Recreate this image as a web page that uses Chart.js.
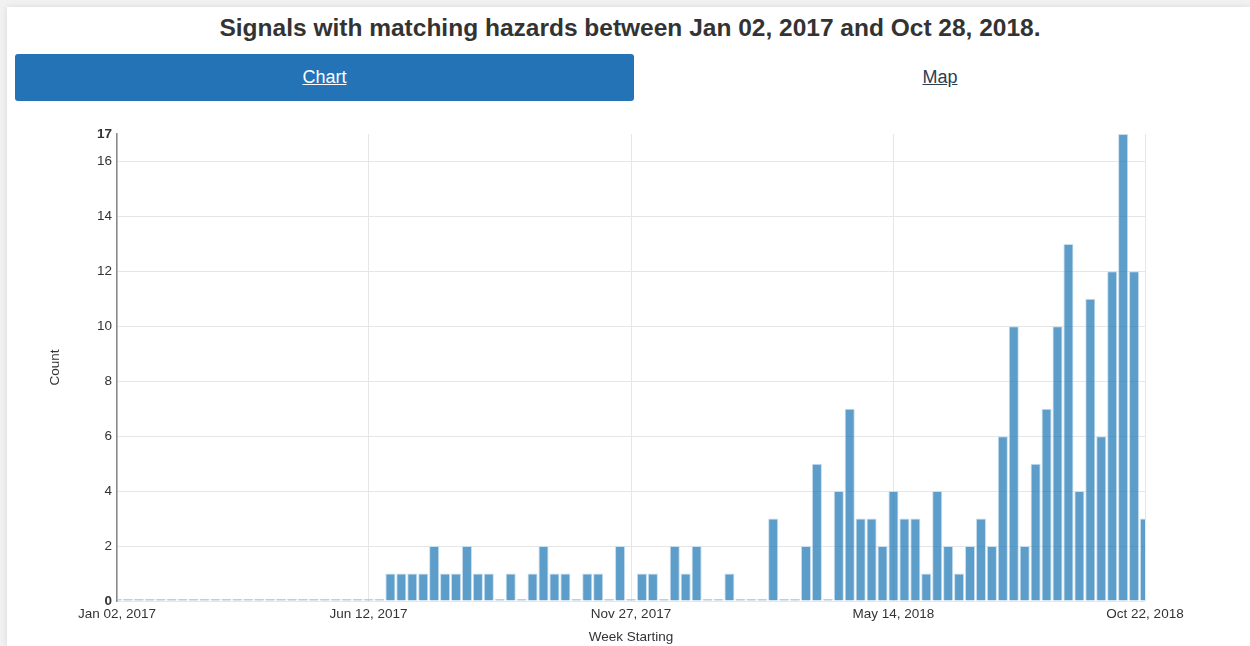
<!DOCTYPE html>
<html>
<head>
<meta charset="utf-8">
<script src="https://cdn.jsdelivr.net/npm/chart.js@4.4.0/dist/chart.umd.min.js"></script>
<style>
    html, body { margin: 0; padding: 0; }
    body {
        width: 1250px; height: 646px; overflow: hidden; position: relative;
        background: #f1f1f1; font-family: "Liberation Sans", Arial, sans-serif;
    }
    #panel {
        position: absolute; left: 7px; top: 7px; right: 0; bottom: 0;
        background: #fff; box-shadow: 0 0 6px rgba(0, 0, 0, 0.10);
    }
    h1 {
        position: absolute; left: 5px; top: 13px; width: 1250px; margin: 0;
        text-align: center; font-size: 24.5px; line-height: 30px; font-weight: bold; color: #333;
    }
    .tab {
        position: absolute; top: 54px; height: 47px; line-height: 47px;
        text-align: center; font-size: 18px; text-decoration: underline;
    }
    #tabChart { left: 15px; width: 619px; background: #2573b7; color: #fff; border-radius: 3px; }
    #tabMap { left: 634px; width: 612px; color: #2c3e50; }
    #chartBox { position: absolute; left: 0; top: 120px; width: 1250px; height: 526px; }
</style>
</head>
<body>
<div id="panel"></div>
<h1>Signals with matching hazards between Jan 02, 2017 and Oct 28, 2018.</h1>
<div class="tab" id="tabChart">Chart</div>
<div class="tab" id="tabMap">Map</div>
<div id="chartBox"><canvas id="hazardChart" width="1250" height="526"></canvas></div>

<script>
    // weekly counts, Jan 02 2017 .. Oct 22 2018 (95 weeks)
    const counts = [
        0, 0, 0, 0, 0, 0, 0, 0, 0, 0,
        0, 0, 0, 0, 0, 0, 0, 0, 0, 0,
        0, 0, 0, 0, 0, 1, 1, 1, 1, 2,
        1, 1, 2, 1, 1, 0, 1, 0, 1, 2,
        1, 1, 0, 1, 1, 0, 2, 0, 1, 1,
        0, 2, 1, 2, 0, 0, 1, 0, 0, 0,
        3, 0, 0, 2, 5, 0, 4, 7, 3, 3,
        2, 4, 3, 3, 1, 4, 2, 1, 2, 3,
        2, 6, 10, 2, 5, 7, 10, 13, 4, 11,
        6, 12, 17, 12, 3
    ];
    const tickLabels = ['Jan 02, 2017', 'Jun 12, 2017', 'Nov 27, 2017', 'May 14, 2018', 'Oct 22, 2018'];
    const yTicks = [0, 2, 4, 6, 8, 10, 12, 14, 16, 17];

    const MONTHS = ['Jan', 'Feb', 'Mar', 'Apr', 'May', 'Jun', 'Jul', 'Aug', 'Sep', 'Oct', 'Nov', 'Dec'];
    const weekLabels = [];
    for (let i = 0; i < counts.length; i++) {
        const d = new Date(Date.UTC(2017, 0, 2 + i * 7));
        const day = String(d.getUTCDate()).padStart(2, '0');
        weekLabels.push(MONTHS[d.getUTCMonth()] + ' ' + day + ', ' + d.getUTCFullYear());
    }

    const FONT = '"Liberation Sans", Arial, sans-serif';
    const SIZE = 13.5;

    new Chart(document.getElementById('hazardChart'), {
        type: 'bar',
        data: {
            labels: weekLabels,
            datasets: [{
                label: 'Count',
                data: counts,
                backgroundColor: 'rgba(31, 119, 180, 0.72)',
                borderColor: 'rgba(200, 222, 238, 1)',
                borderWidth: 1,
                barPercentage: 1,
                categoryPercentage: 0.92,
                minBarLength: 2,
                clip: 0,
            }],
        },
        options: {
            responsive: false,
            animation: false,
            devicePixelRatio: 1,
            layout: { padding: { left: 40, top: 14, right: 105, bottom: 0 } },
            plugins: { legend: { display: false }, tooltip: { enabled: false } },
            scales: {
                x: {
                    type: 'category',
                    offset: false,
                    grid: { color: '#e6e6e6', drawTicks: false, offset: false },
                    border: { display: false },
                    ticks: {
                        autoSkip: false, maxRotation: 0, color: '#333', padding: 5,
                        font: { size: SIZE, family: FONT },
                    },
                    afterBuildTicks: (s) => {
                        s.ticks = s.ticks.filter((t) => tickLabels.includes(weekLabels[t.value]));
                    },
                    afterFit: (s) => { s.height = 45; },
                    title: {
                        display: true, text: 'Week Starting', color: '#333',
                        font: { size: SIZE, family: FONT }, padding: { top: 0, bottom: 1 },
                    },
                },
                y: {
                    min: 0,
                    max: 17,
                    afterBuildTicks: (s) => { s.ticks = yTicks.map((v) => ({ value: v })); },
                    grid: {
                        color: (c) => (c.tick && c.tick.value === 17 ? 'rgba(0,0,0,0)' : '#e6e6e6'),
                        drawTicks: false,
                    },
                    border: { display: true, color: '#888', width: 1.5 },
                    ticks: {
                        color: '#333', padding: 5,
                        font: (c) => ({
                            size: SIZE, family: FONT,
                            weight: (c.tick && (c.tick.value === 0 || c.tick.value === 17)) ? 'bold' : 'normal',
                        }),
                    },
                    afterFit: (s) => { s.width = 77; },
                    title: {
                        display: true, text: 'Count', color: '#333',
                        font: { size: SIZE, family: FONT }, padding: { top: 7, bottom: 0 },
                    },
                },
            },
        },
    });
</script>
</body>
</html>
